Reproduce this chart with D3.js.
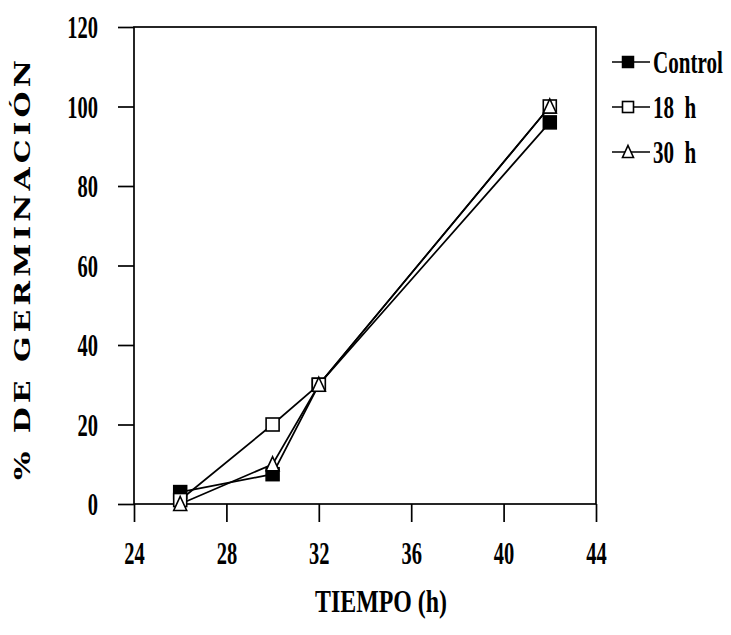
<!DOCTYPE html>
<html>
<head>
<meta charset="utf-8">
<script src="https://cdn.jsdelivr.net/npm/d3@7"></script>
<style>
  html, body { margin: 0; padding: 0; background: #fff; }
  svg { display: block; }
</style>
</head>
<body>
<svg id="chart" width="731" height="635"></svg>
<script>
// ---- data ----
const xTicks = [24, 28, 32, 36, 40, 44];
const yTicks = [0, 20, 40, 60, 80, 100, 120];
const times = [26, 30, 32, 42];
const seriesNames = ["Control", "18 h", "30 h"];
const controlValues = [3, 7.5, 30, 96];
const h18Values = [1, 20, 30, 100];
const h30Values = [0, 10, 30, 100];
const xTitle = "TIEMPO (h)";
const yTitle = "%  DE  GERMINACIÓN";

const series = [
  { name: seriesNames[0], values: controlValues, marker: "squareFilled" },
  { name: seriesNames[1], values: h18Values, marker: "squareOpen" },
  { name: seriesNames[2], values: h30Values, marker: "triangleOpen" }
];

const svg = d3.select("#chart");
const x = d3.scaleLinear().domain([24, 44]).range([134, 596]);
const y = d3.scaleLinear().domain([0, 120]).range([504, 27]);

const numFont = "'Liberation Serif', 'Times New Roman', serif";
const condense = 0.64;

function condenseTexts(sel, k) {
  sel.each(function () {
    const t = d3.select(this);
    const tx = +t.attr("x") || 0;
    const ty = +t.attr("y") || 0;
    t.attr("x", 0).attr("y", 0)
     .attr("transform", `translate(${tx},${ty}) scale(${k},1)`);
  });
}

// frame
svg.append("rect")
  .attr("x", x(24)).attr("y", y(120))
  .attr("width", x(44) - x(24)).attr("height", y(0) - y(120))
  .attr("fill", "none").attr("stroke", "#000").attr("stroke-width", 1.7);

// axes
const xAxis = svg.append("g")
  .attr("transform", `translate(0,${y(0)})`)
  .call(d3.axisBottom(x).tickValues(xTicks).tickSize(18).tickPadding(19).tickSizeOuter(0));
const yAxis = svg.append("g")
  .attr("transform", `translate(${x(24)},0)`)
  .call(d3.axisLeft(y).tickValues(yTicks).tickSize(16).tickPadding(20).tickSizeOuter(0));

[xAxis, yAxis].forEach(a => {
  a.select(".domain").remove();
  a.selectAll("line").attr("stroke", "#000").attr("stroke-width", 1.7);
  a.selectAll("text")
    .attr("font-family", numFont).attr("font-weight", "bold")
    .attr("font-size", 32).attr("fill", "#000");
});
xAxis.selectAll("text").attr("dy", null).attr("dominant-baseline", "hanging");
yAxis.selectAll("text").attr("dy", "0.34em");
condenseTexts(xAxis.selectAll("text"), condense);
condenseTexts(yAxis.selectAll("text"), condense);

// lines
const line = d3.line().x((d, i) => x(times[i])).y(d => y(d));
series.forEach(s => {
  svg.append("path")
    .datum(s.values)
    .attr("d", line)
    .attr("fill", "none").attr("stroke", "#000").attr("stroke-width", 1.7);
});

// markers
function drawMarker(g, type, cx, cy, size) {
  const h = size / 2;
  if (type === "squareFilled") {
    g.append("rect").attr("x", cx - h).attr("y", cy - h).attr("width", size).attr("height", size)
      .attr("fill", "#000").attr("stroke", "#000").attr("stroke-width", 1.5);
  } else if (type === "squareOpen") {
    g.append("rect").attr("x", cx - h).attr("y", cy - h).attr("width", size).attr("height", size)
      .attr("fill", "#fff").attr("stroke", "#000").attr("stroke-width", 1.6);
  } else {
    g.append("path")
      .attr("d", `M${cx},${cy - h - 1}L${cx + h},${cy + h}L${cx - h},${cy + h}Z`)
      .attr("fill", "#fff").attr("stroke", "#000").attr("stroke-width", 1.6);
  }
}
const markerLayer = svg.append("g");
series.forEach(s => {
  s.values.forEach((v, i) => drawMarker(markerLayer, s.marker, x(times[i]), y(v), 13));
});

// legend
const legendY = [62, 107, 152];
const legendTexts = [];
series.forEach((s, i) => {
  const g = svg.append("g");
  g.append("line").attr("x1", 612).attr("x2", 650).attr("y1", legendY[i]).attr("y2", legendY[i])
    .attr("stroke", "#000").attr("stroke-width", 1.5);
  drawMarker(g, s.marker, 628, legendY[i], 11);
  const t = g.append("text")
    .attr("x", 653).attr("y", legendY[i]).attr("dy", "0.34em")
    .attr("font-family", numFont).attr("font-weight", "bold").attr("font-size", 31)
    .attr("fill", "#000")
    .text(s.name.replace(" ", "\u00a0\u00a0"));
  legendTexts.push(t.node());
});
condenseTexts(d3.selectAll(legendTexts), 0.68);

// axis titles
svg.append("text")
  .attr("x", 381).attr("y", 601).attr("dy", "0.35em")
  .attr("text-anchor", "middle")
  .attr("font-family", numFont).attr("font-weight", "bold").attr("font-size", 32)
  .attr("textLength", 132).attr("lengthAdjust", "spacingAndGlyphs")
  .attr("fill", "#000")
  .text(xTitle);

const yStretch = 1.3;
svg.append("text")
  .attr("transform", `translate(22,270) rotate(-90) scale(${yStretch},1)`)
  .attr("text-anchor", "middle").attr("dy", "0.36em")
  .attr("font-family", "'DejaVu Serif', serif").attr("font-weight", "bold").attr("font-size", 23)
  .attr("textLength", 420 / yStretch).attr("lengthAdjust", "spacing")
  .attr("fill", "#000")
  .text(yTitle);
</script>
</body>
</html>
